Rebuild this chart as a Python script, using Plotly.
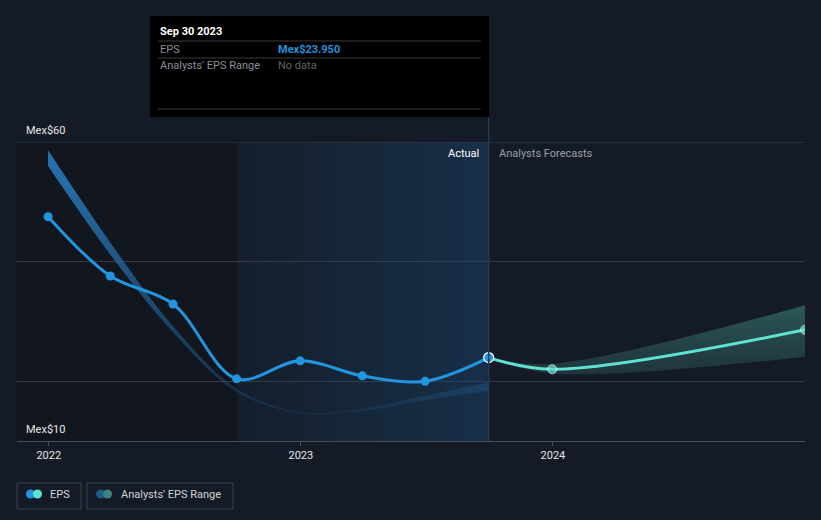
import plotly.graph_objects as go

# ---- data ----
eps_dates = ["2021-12-31", "2022-03-31", "2022-06-30", "2022-09-30",
             "2022-12-31", "2023-03-31", "2023-06-30", "2023-09-30"]
eps_values = [47.5, 37.6, 32.9, 20.4, 23.4, 20.9, 20.0, 23.95]

fc_dates = ["2023-09-30", "2023-12-31", "2024-12-31"]
fc_values = [23.95, 22.0, 28.6]
fc_low = [23.95, 21.3, 24.1]
fc_high = [23.95, 22.9, 32.7]

past_range_dates = eps_dates
past_low = [56.0, 41.2, 28.2, 18.2, 14.6, 15.0, 16.8, 18.4]
past_high = [58.6, 43.2, 29.2, 18.8, 14.85, 15.4, 17.6, 19.8]

highlight_dates = ["2022-09-30", "2023-09-30"]
x_tick_vals = ["2022-01-01", "2023-01-01", "2024-01-01"]
x_tick_text = ["2022", "2023", "2024"]
y_grid_vals = [20, 40, 60]

BG = "#151b26"
BLUE = "#2394df"
TEAL = "#5fe3cf"
FONT = "Roboto"

fig = go.Figure()

# darker past region
fig.add_shape(type="rect", xref="x", yref="paper", x0="2021-11-16", x1=highlight_dates[0],
              y0=0, y1=1, fillcolor="#12161e", line_width=0, layer="below")

# highlighted last-year region (horizontal gradient)
fig.add_trace(go.Scatter(
    x=highlight_dates, y=[60, 60], mode="lines", line=dict(width=0),
    fill="tozeroy",
    fillgradient=dict(type="horizontal",
                      colorscale=[[0, "rgba(25,75,120,0.06)"], [1, "rgba(25,75,120,0.42)"]]),
    hoverinfo="skip", showlegend=False))

# past analysts range band (vertical fading gradient)
fig.add_trace(go.Scatter(x=past_range_dates, y=past_low, mode="lines",
                         line=dict(width=0, shape="spline"), hoverinfo="skip", showlegend=False))
fig.add_trace(go.Scatter(
    x=past_range_dates, y=past_high, mode="lines", line=dict(width=0, shape="spline"),
    fill="tonexty",
    fillgradient=dict(type="vertical", start=12, stop=58,
                      colorscale=[[0, "rgba(35,110,170,0.05)"], [0.2, "rgba(35,110,170,0.35)"],
                                  [0.5, "rgba(38,115,180,0.6)"],
                                  [1, "rgba(40,120,185,0.95)"]]),
    hoverinfo="skip", showlegend=False))

# forecast range band
fig.add_trace(go.Scatter(x=fc_dates, y=fc_low, mode="lines",
                         line=dict(width=0, shape="spline"), hoverinfo="skip", showlegend=False))
fig.add_trace(go.Scatter(
    x=fc_dates, y=fc_high, mode="lines", line=dict(width=0, shape="spline"),
    fill="tonexty",
    fillgradient=dict(type="vertical", start=21, stop=33,
                      colorscale=[[0, "rgba(50,100,100,0.35)"], [1, "rgba(60,130,125,0.6)"]]),
    hoverinfo="skip", showlegend=False))

# forecast EPS line (first point is the last actual, drawn separately)
fig.add_trace(go.Scatter(x=fc_dates, y=fc_values, mode="lines+markers",
                         line=dict(color=TEAL, width=3, shape="spline"),
                         marker=dict(color=TEAL, size=[0, 9, 9]),
                         hoverinfo="skip", showlegend=False))

# EPS actual line
fig.add_trace(go.Scatter(x=eps_dates, y=eps_values, mode="lines+markers",
                         line=dict(color=BLUE, width=3, shape="spline"),
                         marker=dict(color=BLUE, size=9),
                         hoverinfo="skip", showlegend=False))
# highlighted last actual point
fig.add_trace(go.Scatter(x=[eps_dates[-1]], y=[eps_values[-1]], mode="markers",
                         marker=dict(color=BLUE, size=10, line=dict(color="white", width=1.2)),
                         hoverinfo="skip", showlegend=False))

# top gridline (at range edge)
fig.add_shape(type="line", xref="paper", yref="y", x0=0, x1=1, y0=60, y1=60,
              line=dict(color="#3a3f4a", width=1), layer="above")

# vertical divider at today
fig.add_shape(type="line", xref="x", yref="paper", x0=eps_dates[-1], x1=eps_dates[-1],
              y0=0, y1=1.0836, line=dict(color="#1f3a55", width=1.5))

# tooltip box
fig.add_shape(type="rect", xref="paper", yref="paper", x0=0.1688, x1=0.599, y0=1.0836, y1=1.4214,
              fillcolor="#000000", line_width=0)
for yy in [1.3378, 1.2809, 1.1104]:
    fig.add_shape(type="line", xref="paper", yref="paper", x0=0.1789, x1=0.5888, y0=yy, y1=yy,
                  line=dict(color="#3a3a3a", width=1))

def ann(text, x, y, color, size=11, xanchor="left", bold=False):
    if bold:
        text = "<b>" + text + "</b>"
    fig.add_annotation(text=text, x=x, y=y, xref="paper", yref="paper", showarrow=False,
                       xanchor=xanchor, yanchor="middle",
                       font=dict(family=FONT, size=size, color=color))

ann("Sep 30 2023", 0.1789, 1.3712, "#ffffff", 11, bold=True)
ann("EPS", 0.1789, 1.311, "#8a8f98", 11)
ann("Mex$23.950", 0.3287, 1.311, BLUE, 11, bold=True)
ann("Analysts' EPS Range", 0.1789, 1.2542, "#8a8f98", 11)
ann("No data", 0.3287, 1.2542, "#5f646c", 11)

# y labels
ann("Mex$60", 0.0089, 1.0401, "#e6e6e6", 11)
ann("Mex$10", 0.0089, 0.0368, "#e6e6e6", 11)

# actual / forecast labels
ann("Actual", 0.5888, 0.9599, "#ffffff", 11, xanchor="right")
ann("Analysts Forecasts", 0.6091, 0.9599, "#9aa0a8", 11)

# custom legend
def box(x0, x1, y0, y1):
    fig.add_shape(type="rect", xref="paper", yref="paper", x0=x0, x1=x1, y0=y0, y1=y1,
                  line=dict(color="#3c414b", width=1), fillcolor="rgba(0,0,0,0)")

box(0.0, 0.0812, -0.2274, -0.1405)
box(0.0888, 0.2741, -0.2274, -0.1405)

def dot(px, color):
    fig.add_shape(type="circle", xref="paper", yref="paper", xsizemode="pixel", ysizemode="pixel",
                  xanchor=(px - 17) / 788, yanchor=(441 - 494) / 299,
                  x0=-4.5, x1=4.5, y0=-4.5, y1=4.5, fillcolor=color, line_width=0)

dot(30.5, BLUE)
dot(37.5, TEAL)
dot(100.5, "#1f5a8a")
dot(107.5, "#3d8580")
ann("EPS", (48 - 17) / 788, (441 - 494) / 299, "#d0d3d8", 11)
ann("Analysts' EPS Range", (119 - 17) / 788, (441 - 494) / 299, "#d0d3d8", 11)

fig.update_layout(
    width=821, height=520,
    margin=dict(l=17, r=16, t=142, b=79),
    paper_bgcolor=BG, plot_bgcolor=BG,
    showlegend=False,
    font=dict(family=FONT, size=11, color="#e6e6e6"),
    xaxis=dict(type="date", range=["2021-11-16", "2024-12-31"],
               tickvals=x_tick_vals, ticktext=x_tick_text,
               showgrid=False, zeroline=False,
               showline=True, linecolor="#4a4f59", linewidth=1,
               ticks="outside", ticklen=4, tickcolor="#4a4f59",
               tickfont=dict(family=FONT, size=11, color="#e6e6e6")),
    yaxis=dict(range=[10, 60], tickvals=y_grid_vals, showticklabels=False,
               showgrid=True, gridcolor="#353a45", gridwidth=1, zeroline=False,
               showline=False),
    hovermode=False,
)

fig.write_html("out.html", config={"displayModeBar": False},
               post_script="document.body.style.margin='0';document.body.style.background='#151b26';")
